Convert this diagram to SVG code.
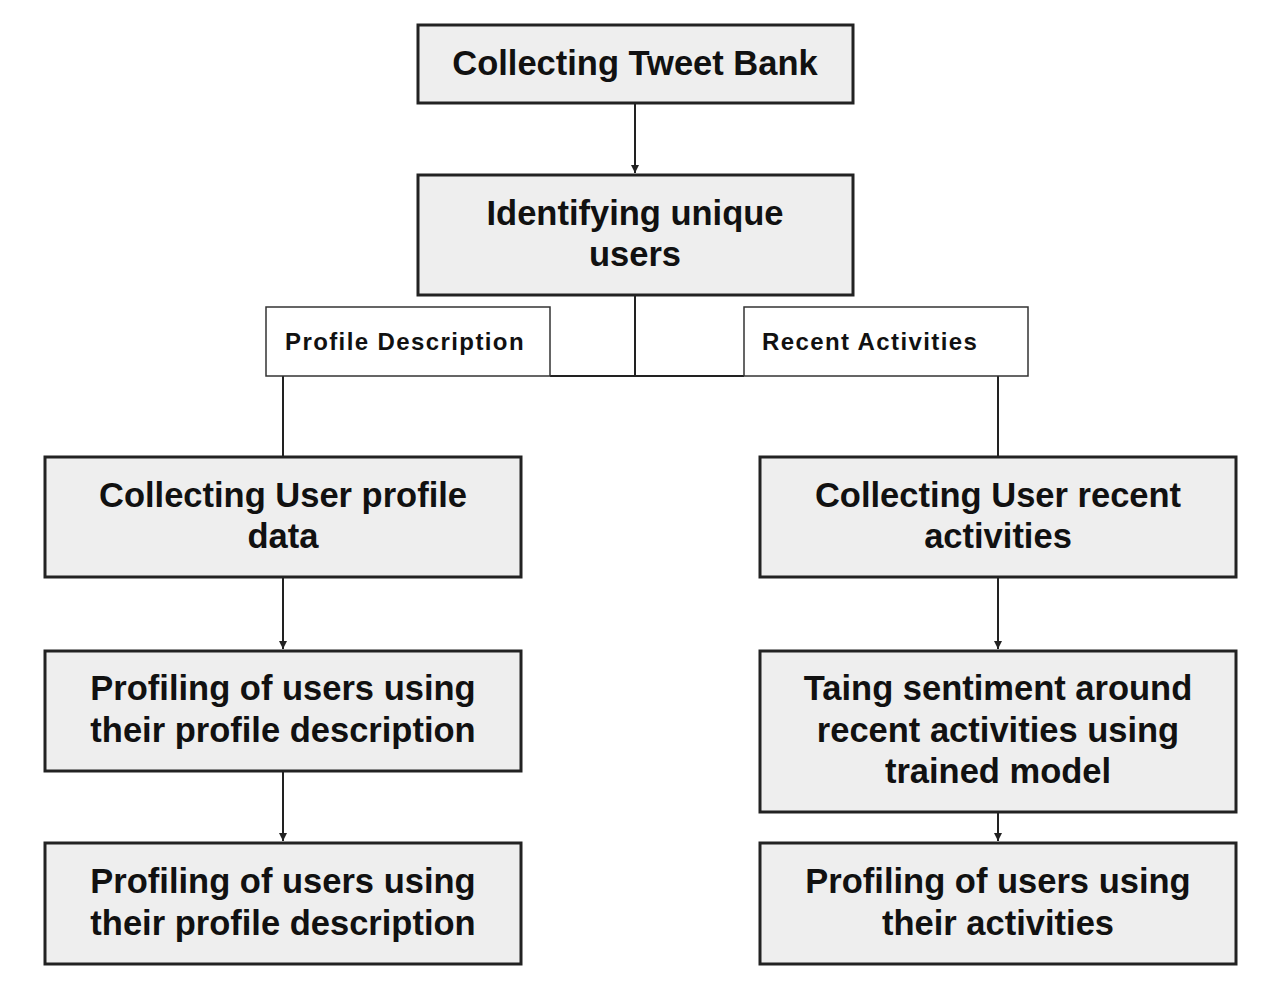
<svg xmlns="http://www.w3.org/2000/svg" width="1284" height="988" viewBox="0 0 1284 988">
<style>
.box{fill:#eeeeee;stroke:#222;stroke-width:3}
.lbl{fill:#fff;stroke:#333;stroke-width:1.5}
.t{font-family:"Liberation Sans",Arial,sans-serif;font-weight:bold;font-size:34.5px;fill:#111;text-anchor:middle}
.s{font-family:"Liberation Sans",Arial,sans-serif;font-weight:bold;font-size:24px;letter-spacing:1.4px;fill:#111}
.c{stroke:#222;stroke-width:2;fill:none}
</style>
<defs>
<marker id="ah" markerWidth="10" markerHeight="10" refX="8" refY="5" orient="auto" markerUnits="userSpaceOnUse">
<path d="M0,1 L8,5 L0,9 Z" fill="#222"/>
</marker>
</defs>
<rect width="1284" height="988" fill="#fff"/>
<g id="connectors">
<line class="c" x1="635" y1="104" x2="635" y2="173" marker-end="url(#ah)"/>
<polyline class="c" points="635,296 635,376"/>
<line class="c" x1="550" y1="376" x2="744" y2="376"/>
<line class="c" x1="283" y1="376" x2="283" y2="457"/>
<line class="c" x1="998" y1="376" x2="998" y2="457"/>
<line class="c" x1="283" y1="578" x2="283" y2="649" marker-end="url(#ah)"/>
<line class="c" x1="283" y1="772" x2="283" y2="841" marker-end="url(#ah)"/>
<line class="c" x1="998" y1="578" x2="998" y2="649" marker-end="url(#ah)"/>
<line class="c" x1="998" y1="813" x2="998" y2="841" marker-end="url(#ah)"/>
</g>
<g id="n1"><rect class="box" x="418" y="25" width="435" height="78"/><text class="t" x="635" y="75">Collecting Tweet Bank</text></g>
<g id="n2"><rect class="box" x="418" y="175" width="435" height="120"/><text class="t" x="635" y="225">Identifying unique</text><text class="t" x="635" y="266">users</text></g>
<g id="l1"><rect class="lbl" x="266" y="307" width="284" height="69"/><text class="s" x="285" y="350">Profile Description</text></g>
<g id="l2"><rect class="lbl" x="744" y="307" width="284" height="69"/><text class="s" x="762" y="350">Recent Activities</text></g>
<g id="n3"><rect class="box" x="45" y="457" width="476" height="120"/><text class="t" x="283" y="507">Collecting User profile</text><text class="t" x="283" y="548">data</text></g>
<g id="n4"><rect class="box" x="760" y="457" width="476" height="120"/><text class="t" x="998" y="507">Collecting User recent</text><text class="t" x="998" y="548">activities</text></g>
<g id="n5"><rect class="box" x="45" y="651" width="476" height="120"/><text class="t" x="283" y="700">Profiling of users using</text><text class="t" x="283" y="742">their profile description</text></g>
<g id="n6"><rect class="box" x="760" y="651" width="476" height="161"/><text class="t" x="998" y="700">Taing sentiment around</text><text class="t" x="998" y="742">recent activities using</text><text class="t" x="998" y="783">trained model</text></g>
<g id="n7"><rect class="box" x="45" y="843" width="476" height="121"/><text class="t" x="283" y="893">Profiling of users using</text><text class="t" x="283" y="935">their profile description</text></g>
<g id="n8"><rect class="box" x="760" y="843" width="476" height="121"/><text class="t" x="998" y="893">Profiling of users using</text><text class="t" x="998" y="935">their activities</text></g>
</svg>
